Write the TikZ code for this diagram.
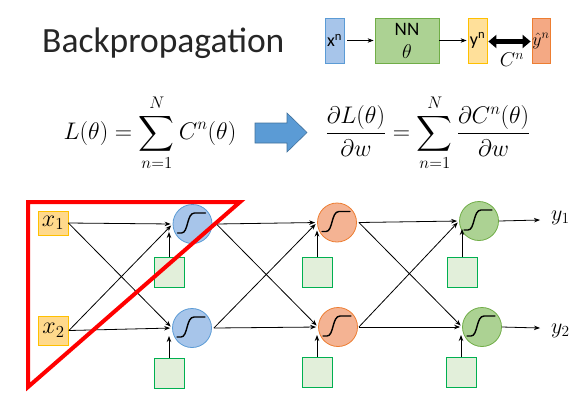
\RequirePackage{fix-cm}
\documentclass[tikz,border=0pt]{standalone}
\usepackage{fontspec}
\setmainfont{Carlito}
\setsansfont{Carlito}
\usepackage{amsmath}
\usetikzlibrary{arrows.meta,calc}
\definecolor{bluefill}{HTML}{A7C5EA}
\definecolor{bluedraw}{HTML}{5B9BD5}
\definecolor{orfill}{HTML}{F4B393}
\definecolor{ordraw}{HTML}{ED7D31}
\definecolor{grfill}{HTML}{ACD293}
\definecolor{grdraw}{HTML}{70AD47}
\definecolor{biasfill}{HTML}{E2EFDA}
\definecolor{biasdraw}{HTML}{00B050}
\definecolor{yelfill}{HTML}{FFD98C}
\definecolor{yeldraw}{HTML}{FFC000}
\definecolor{ynfill}{HTML}{FFE09A}
\definecolor{yhfill}{HTML}{F4A984}
\definecolor{bigarrow}{HTML}{5B9BD5}
\definecolor{bigarrowdraw}{HTML}{41719C}
\tikzset{
  neuron/.style={circle, minimum size=39pt, inner sep=0pt, line width=0.8pt},
  bluen/.style={neuron, fill=bluefill, draw=bluedraw},
  orn/.style={neuron, fill=orfill, draw=ordraw},
  grn/.style={neuron, fill=grfill, draw=grdraw},
  biasbox/.style={rectangle, minimum width=30pt, minimum height=30pt, inner sep=0pt, fill=biasfill, draw=biasdraw, line width=0.8pt},
  inbox/.style={rectangle, minimum width=30pt, minimum height=24pt, inner sep=0pt, fill=yelfill, draw=yeldraw, line width=0.8pt, font=\fontsize{24}{26}\selectfont},
  conn/.style={-{Stealth[length=6pt,width=4.5pt]}, line width=0.8pt, shorten >=2pt},
  topbox/.style={rectangle, minimum height=45pt, inner sep=0pt, line width=0.8pt},
  sigmoid/.pic={\draw[line width=1.4pt, line cap=round] (-15,9) -- (-11,9) .. controls (-4,9) and (-6,-11) .. (2,-11) -- (13,-11);}
}
\begin{document}
\begin{tikzpicture}[x=1pt,y=-1pt]
\useasboundingbox (0,0) rectangle (585,416);
% title
\node[anchor=base west, inner sep=0pt, font=\fontsize{35.5}{40}\selectfont, text=black!85] (title) at (42,52) {Backpropagation};
% top diagram
\node[topbox, minimum width=19pt, fill=bluefill, draw=bluedraw, font=\fontsize{18}{18}\selectfont] (xn) at (334.5,40.5) {x\textsuperscript{n}};
\node[topbox, minimum width=64pt, fill=grfill, draw=grdraw] (nn) at (407,40.5) {};
\node[font=\fontsize{19}{20}\selectfont, inner sep=0pt] (nnt) at (407,29) {NN};
\node[font=\fontsize{20}{20}\selectfont, inner sep=0pt] (nnth) at (407,52) {$\theta$};
\node[topbox, minimum width=19pt, fill=ynfill, draw=yeldraw, font=\fontsize{18}{18}\selectfont] (yn) at (477.5,40.5) {y\textsuperscript{n}};
\node[topbox, minimum width=18pt, fill=yhfill, draw=ordraw, font=\fontsize{18}{18}\selectfont] (yh) at (541,40.5) {$\hat{y}^n$};
\draw[conn, shorten >=1pt] ($(xn.east)+(3,0)$) -- (nn.west);
\draw[conn, shorten >=1pt] (nn.east) -- (yn.west);
\draw[{Triangle[length=8pt,width=13pt]}-{Triangle[length=8pt,width=13pt]}, line width=4.5pt] ($(yn.east)+(1,1)$) -- ($(yh.west)+(-1,1)$);
\node[font=\fontsize{20}{20}\selectfont] (cn) at (512,60) {$C^n$};
% equations
\node[font=\fontsize{24}{28}\selectfont] (eq1) at (150,133) {$\displaystyle L(\theta)=\sum_{n=1}^{N} C^n(\theta)$};
\draw[fill=bigarrow, draw=bigarrowdraw, line width=0.6pt] (255,123) -- (287,123) -- (287,113) -- (307,132.5) -- (287,152) -- (287,143) -- (255,143) -- cycle;
\node[font=\fontsize{24}{28}\selectfont] (eq2) at (428,133) {$\displaystyle \frac{\partial L(\theta)}{\partial w}=\sum_{n=1}^{N}\frac{\partial C^n(\theta)}{\partial w}$};
% network nodes
\node[inbox] (x1) at (53,223) {$x_1$};
\node[inbox, minimum height=29pt] (x2) at (53.5,330.5) {$x_2$};
\node[bluen] (a1) at (192.5,224) {};
\node[bluen] (a2) at (192,328) {};
\node[orn] (b1) at (337,222.5) {};
\node[orn] (b2) at (338,327) {};
\node[grn] (c1) at (479,221) {};
\node[grn] (c2) at (482,327) {};
\foreach \n in {a1,a2,b1,b2,c1,c2} {\pic at (\n) {sigmoid};}
\node[biasbox] (ba1) at (169,272) {};
\node[biasbox] (ba2) at (169,373) {};
\node[biasbox] (bb1) at (317,272) {};
\node[biasbox] (bb2) at (317,372) {};
\node[biasbox] (bc1) at (462,272) {};
\node[biasbox] (bc2) at (461,372) {};
% input edges
\draw[conn] (x1.east) -- (a1.west);
\draw[conn] (x1.east) -- (a2.west);
\draw[conn] (x2.east) -- (a1.west);
\draw[conn] (x2.east) -- (a2.west);
% hidden edges
\draw[conn] ($(a1.east)+(4,0)$) -- (b1.west);
\draw[conn] ($(a1.east)+(4,0)$) -- (b2.west);
\draw[conn] ($(a2.east)+(2,0)$) -- (b1.west);
\draw[conn] ($(a2.east)+(2,0)$) -- (b2.west);
\draw[conn] ($(b1.east)+(2,0)$) -- (c1.west);
\draw[conn] ($(b1.east)+(2,0)$) -- (c2.west);
\draw[conn] ($(b2.east)+(1,0)$) -- (c1.west);
\draw[conn] ($(b2.east)+(1,0)$) -- (c2.west);
% bias edges
\foreach \b/\n in {ba1/a1,ba2/a2,bb1/b1,bb2/b2,bc1/c1,bc2/c2} {
  \coordinate (t\n) at ($(\n.center)+(0,8)$);
  \draw[conn, shorten >=0pt] (\b.north) -- (\b.north |- t\n);
}
% outputs
\coordinate (o1) at (540,220);
\coordinate (o2) at (540,328);
\draw[conn, shorten >=0pt] (c1.east) -- (o1);
\draw[conn, shorten >=0pt] (c2.east) -- (o2);
\node[anchor=west, font=\fontsize{22}{24}\selectfont, inner sep=0pt] (y1) at (551,218) {$y_1$};
\node[anchor=west, font=\fontsize{22}{24}\selectfont, inner sep=0pt] (y2) at (551,331) {$y_2$};
% red triangle
\draw[red, line width=4pt, line join=miter] (28,202) -- (240,202) -- (28,387) -- cycle;
\end{tikzpicture}
\end{document}
